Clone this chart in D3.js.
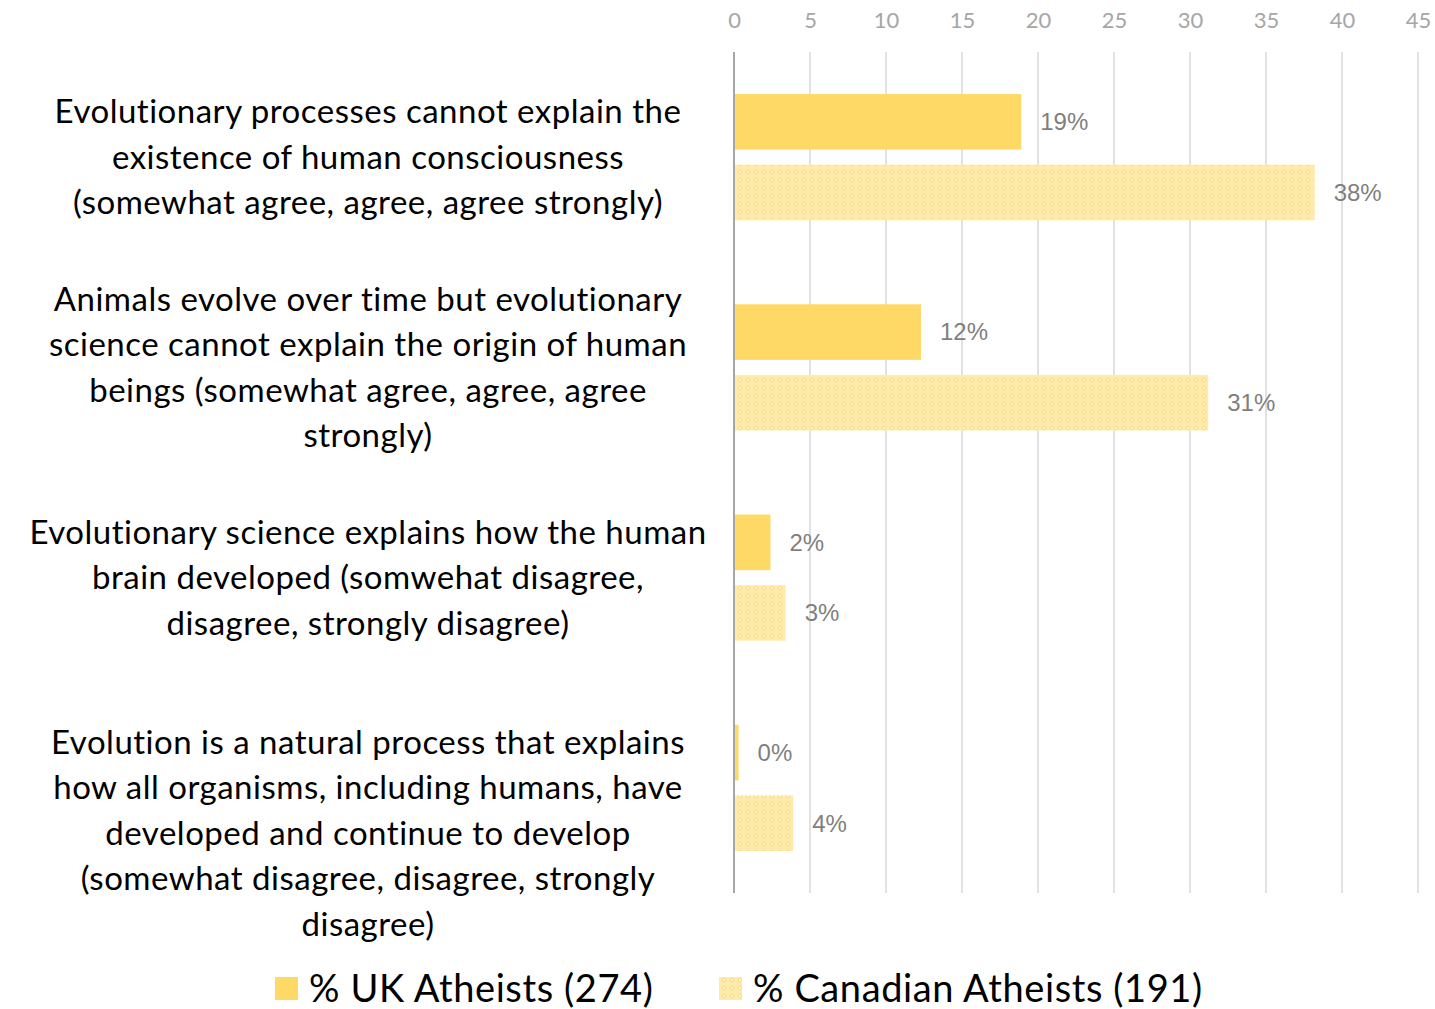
<!DOCTYPE html>
<html>
<head>
<meta charset="utf-8">
<script src="https://cdn.jsdelivr.net/npm/d3@7"></script>
<style>
  body { margin: 0; background: #fff; }
  svg { display: block; }
</style>
</head>
<body>
<svg id="chart" width="1435" height="1009"></svg>
<script>
// data
var categories = ["c1", "c2", "c3", "c4"];
var categoryLines = [
  ["Evolutionary processes cannot explain the", "existence of human consciousness", "(somewhat agree, agree, agree strongly)"],
  ["Animals evolve over time but evolutionary", "science cannot explain the origin of human", "beings (somewhat agree, agree, agree", "strongly)"],
  ["Evolutionary science explains how the human", "brain developed (somwehat disagree,", "disagree, strongly disagree)"],
  ["Evolution is a natural process that explains", "how all organisms, including humans, have", "developed and continue to develop", "(somewhat disagree, disagree, strongly", "disagree)"]
];
var seriesNames = ["% UK Atheists (274)", "% Canadian Atheists (191)"];
var ukValues = [18.9, 12.3, 2.4, 0.3];
var canValues = [38.2, 31.2, 3.4, 3.9];
var tickValues = [0, 5, 10, 15, 20, 25, 30, 35, 40, 45];

var svg = d3.select("#chart");

// pattern for canadian bars
var defs = svg.append("defs");
var pat = defs.append("pattern")
    .attr("id", "dots")
    .attr("patternUnits", "userSpaceOnUse")
    .attr("width", 8).attr("height", 8);
pat.append("rect").attr("width", 8).attr("height", 8).attr("fill", "#FFEAAE");
pat.append("circle").attr("cx", 4).attr("cy", 4).attr("r", 1.6)
    .attr("fill", "#FFF6DC").attr("stroke", "#FFDC70").attr("stroke-width", 1);

var x = d3.scaleLinear().domain([0, 45]).range([734, 1418]);
var y0 = d3.scaleBand().domain(categories).range([52, 893]).paddingInner(0.4).paddingOuter(0.2);
var y1 = d3.scaleBand().domain([0, 1]).range([0, y0.bandwidth()]).paddingInner(0.213);

// gridlines
svg.append("g").selectAll("line")
    .data(tickValues.slice(1))
  .enter().append("line")
    .attr("x1", function(d) { return x(d); })
    .attr("x2", function(d) { return x(d); })
    .attr("y1", 52).attr("y2", 893)
    .attr("stroke", "#d9d9d9").attr("stroke-width", 1.5);

// top axis
var axis = svg.append("g")
    .attr("transform", "translate(0,28)")
    .call(d3.axisTop(x).tickValues(tickValues).tickSize(0).tickPadding(0));
axis.select(".domain").remove();
axis.selectAll("text")
    .attr("font-family", "Lato, 'Open Sans', sans-serif")
    .attr("font-size", 22)
    .attr("fill", "#a6a6a6");

// bars
var series = [ukValues, canValues];
var fills = ["#FFD966", "url(#dots)"];
series.forEach(function(vals, s) {
  var g = svg.append("g");
  g.selectAll("rect")
      .data(vals)
    .enter().append("rect")
      .attr("x", x(0))
      .attr("y", function(d, i) { return y0(categories[i]) + y1(s); })
      .attr("width", function(d) { return x(d) - x(0); })
      .attr("height", y1.bandwidth())
      .attr("fill", fills[s]);
  g.selectAll("text")
      .data(vals)
    .enter().append("text")
      .attr("x", function(d) { return x(d) + 19; })
      .attr("y", function(d, i) { return y0(categories[i]) + y1(s) + y1.bandwidth() / 2; })
      .attr("dy", ".35em")
      .attr("font-family", "'Liberation Sans', Arial, sans-serif")
      .attr("font-size", 24)
      .attr("fill", "#7f7f7f")
      .text(function(d) { return Math.round(d) + "%"; });
});

// vertical axis line
svg.append("line")
    .attr("x1", x(0)).attr("x2", x(0))
    .attr("y1", 52).attr("y2", 893)
    .attr("stroke", "#a6a6a6").attr("stroke-width", 2);

// category labels (long ones overflow the band downward, like excel does)
var lineH = 45.5;
categoryLines.forEach(function(lines, i) {
  var cy = y0(categories[i]) + y0.bandwidth() / 2;
  var top = cy - (lines.length - 1) * lineH / 2;
  if (lines.length > 4) top += lineH;
  svg.append("text")
      .attr("text-anchor", "middle")
      .attr("font-family", "Lato, 'Open Sans', sans-serif")
      .attr("font-size", 33)
      .attr("letter-spacing", 0.5)
      .attr("fill", "#000")
    .selectAll("tspan")
      .data(lines)
    .enter().append("tspan")
      .attr("x", 368)
      .attr("y", function(d, j) { return top + j * lineH; })
      .attr("dy", ".35em")
      .text(function(d) { return d; });
});

// legend
var legendX = [275, 719];
seriesNames.forEach(function(name, s) {
  svg.append("rect")
      .attr("x", legendX[s]).attr("y", 977)
      .attr("width", 23).attr("height", 23)
      .attr("fill", fills[s]);
  svg.append("text")
      .attr("x", legendX[s] + 34).attr("y", 989)
      .attr("dy", ".35em")
      .attr("font-family", "Lato, 'Open Sans', sans-serif")
      .attr("font-size", 38)
      .attr("letter-spacing", 0.6)
      .attr("fill", "#000")
      .text(name);
});
</script>
</body>
</html>
